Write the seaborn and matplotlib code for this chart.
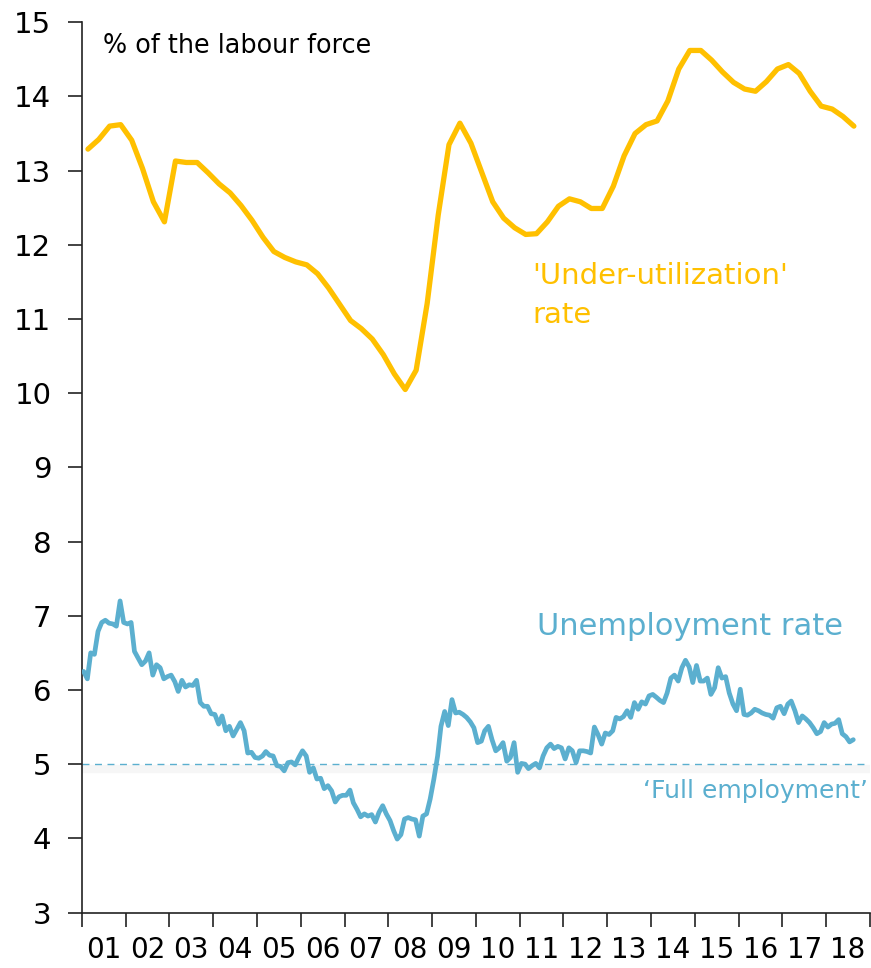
import numpy as np
import pandas as pd
import matplotlib
matplotlib.use("Agg")
import matplotlib.pyplot as plt
import matplotlib.dates as mdates
import matplotlib.ticker as mticker
import seaborn as sns

# quarterly 'under-utilization' rate, 2001Q1 - 2018Q3
underutil = [13.29, 13.42, 13.60, 13.62, 13.41, 13.03, 12.58, 12.31, 13.13, 13.11,
             13.11, 12.97, 12.82, 12.70, 12.53, 12.33, 12.10, 11.91, 11.83, 11.77,
             11.73, 11.61, 11.42, 11.20, 10.98, 10.87, 10.73, 10.52, 10.26, 10.05,
             10.31, 11.21, 12.40, 13.35, 13.64, 13.37, 12.97, 12.58, 12.36, 12.23,
             12.14, 12.15, 12.31, 12.52, 12.62, 12.58, 12.49, 12.49, 12.79, 13.20,
             13.50, 13.62, 13.67, 13.94, 14.37, 14.62, 14.62, 14.49, 14.33, 14.19,
             14.10, 14.07, 14.20, 14.37, 14.43, 14.31, 14.07, 13.87, 13.83, 13.73,
             13.60]

# monthly unemployment rate, Jan 2001 - Aug 2018
unemp = [6.25, 6.15, 6.50, 6.48, 6.79, 6.91, 6.94, 6.90, 6.89, 6.86, 7.20, 6.91,
         6.89, 6.91, 6.52, 6.43, 6.34, 6.39, 6.50, 6.20, 6.34, 6.30, 6.15, 6.18,
         6.20, 6.11, 5.98, 6.13, 6.04, 6.07, 6.06, 6.13, 5.83, 5.78, 5.78, 5.68,
         5.67, 5.54, 5.65, 5.45, 5.51, 5.38, 5.47, 5.56, 5.45, 5.15, 5.16, 5.09,
         5.08, 5.11, 5.17, 5.12, 5.11, 4.98, 4.97, 4.91, 5.02, 5.03, 4.99, 5.09,
         5.18, 5.11, 4.89, 4.95, 4.80, 4.81, 4.67, 4.71, 4.64, 4.49, 4.56, 4.58,
         4.58, 4.65, 4.48, 4.39, 4.29, 4.33, 4.30, 4.32, 4.22, 4.35, 4.44, 4.33,
         4.24, 4.10, 3.99, 4.05, 4.26, 4.28, 4.26, 4.25, 4.03, 4.30, 4.33, 4.53,
         4.80, 5.11, 5.51, 5.71, 5.52, 5.87, 5.69, 5.70, 5.67, 5.63, 5.57, 5.49,
         5.29, 5.31, 5.45, 5.51, 5.33, 5.18, 5.22, 5.29, 5.04, 5.09, 5.29, 4.89,
         5.01, 5.00, 4.94, 4.98, 5.01, 4.95, 5.11, 5.22, 5.27, 5.21, 5.24, 5.22,
         5.07, 5.22, 5.18, 5.02, 5.18, 5.18, 5.17, 5.15, 5.50, 5.40, 5.27, 5.42,
         5.40, 5.45, 5.63, 5.61, 5.64, 5.72, 5.63, 5.83, 5.74, 5.84, 5.81, 5.92,
         5.94, 5.90, 5.86, 5.83, 5.96, 6.16, 6.20, 6.12, 6.30, 6.40, 6.31, 6.10,
         6.33, 6.12, 6.12, 6.16, 5.94, 6.03, 6.30, 6.16, 6.18, 5.96, 5.81, 5.72,
         6.01, 5.67, 5.66, 5.69, 5.74, 5.72, 5.69, 5.67, 5.66, 5.62, 5.76, 5.78,
         5.68, 5.81, 5.85, 5.72, 5.56, 5.65, 5.61, 5.56, 5.49, 5.41, 5.44, 5.56,
         5.50, 5.54, 5.55, 5.60, 5.41, 5.37, 5.30, 5.33]

full_employment = 5.0
yticks = list(range(3, 16))

YELLOW = "#FFC000"
BLUE = "#5BAFCF"

q_dates = pd.date_range("2001-01-01", periods=len(underutil), freq="QS") + pd.Timedelta(days=50)
m_dates = pd.date_range("2001-01-01", periods=len(unemp), freq="MS") + pd.Timedelta(days=14)
df_q = pd.DataFrame({"date": q_dates, "rate": underutil})
df_m = pd.DataFrame({"date": m_dates, "rate": unemp})

sns.set_style("ticks")
plt.rcParams["font.family"] = ["DejaVu Sans"]

fig = plt.figure(figsize=(8.71, 9.68), dpi=100)
ax = fig.add_axes([0.0941, 0.0573, 0.9047, 0.9197])

# faint shadow + dashed 'full employment' line
ax.axhline(full_employment - 0.07, color="#f6f6f6", lw=6, zorder=1)
ax.axhline(full_employment, color=BLUE, lw=1.0, ls=(0, (5, 4)), zorder=2)

sns.lineplot(data=df_q, x="date", y="rate", ax=ax, color=YELLOW, lw=3.8,
             solid_capstyle="round", solid_joinstyle="round", zorder=3)
sns.lineplot(data=df_m, x="date", y="rate", ax=ax, color=BLUE, lw=3.4,
             solid_capstyle="round", solid_joinstyle="round", zorder=3)

ax.set_xlim(pd.Timestamp("2001-01-01"), pd.Timestamp("2019-01-01"))
ax.set_ylim(3, 15)
ax.set_yticks(yticks)
ax.set_xlabel("")
ax.set_ylabel("")

ax.xaxis.set_major_locator(mdates.YearLocator())
ax.xaxis.set_major_formatter(mticker.NullFormatter())
ax.xaxis.set_minor_locator(mdates.MonthLocator(bymonth=7, bymonthday=1))
ax.xaxis.set_minor_formatter(mdates.DateFormatter("%y"))
ax.tick_params(axis="x", which="major", length=10, width=1.2, direction="out",
               color="#222222")
ax.tick_params(axis="x", which="minor", length=0, pad=17, labelsize=20,
               labelcolor="black")
ax.tick_params(axis="y", length=10, width=1.2, pad=12, labelsize=21,
               labelcolor="black", color="#222222")

for s in ["top", "right"]:
    ax.spines[s].set_visible(False)
for s in ["left", "bottom"]:
    ax.spines[s].set_linewidth(1.2)
    ax.spines[s].set_color("#222222")

ax.text(0.0267, 0.9655, "% of the labour force", transform=ax.transAxes,
        fontsize=18.4, va="baseline", ha="left", color="black")
ax.text(0.572, 0.706, "'Under-utilization'", transform=ax.transAxes,
        fontsize=21, va="baseline", ha="left", color=YELLOW)
ax.text(0.572, 0.662, "rate", transform=ax.transAxes,
        fontsize=21, va="baseline", ha="left", color=YELLOW)
ax.text(0.577, 0.3117, "Unemployment rate", transform=ax.transAxes,
        fontsize=22, va="baseline", ha="left", color=BLUE)
ax.text(0.9975, 0.1286, "\u2018Full employment\u2019", transform=ax.transAxes,
        fontsize=18, va="baseline", ha="right", color=BLUE)

fig.savefig("out.png", dpi=100)
